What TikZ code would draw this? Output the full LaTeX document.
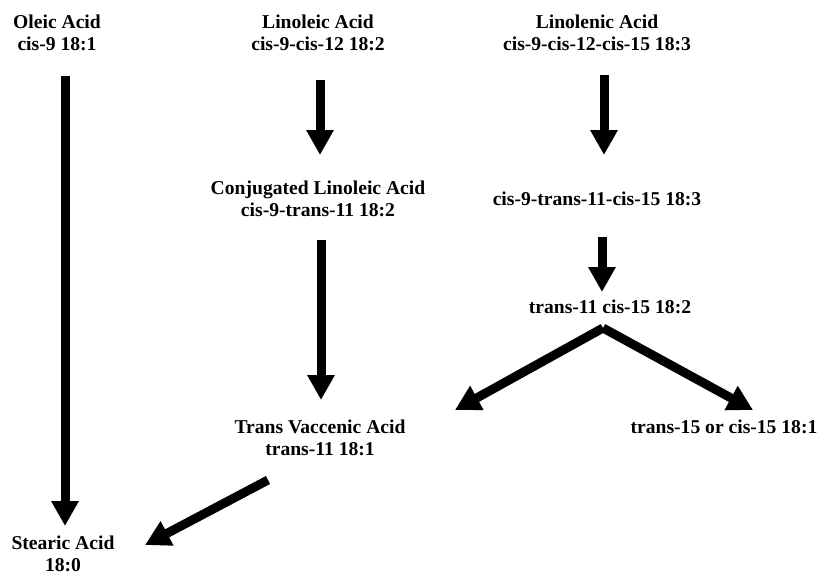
\documentclass[tikz,border=0pt]{standalone}
\usepackage{fontspec}
\setmainfont{Liberation Serif}
\usetikzlibrary{arrows.meta}
\begin{document}
\begin{tikzpicture}[x=1pt,y=1pt,
  lbl/.style={font=\fontsize{19.6}{22}\selectfont\bfseries, align=center, inner sep=0pt, anchor=base},
  arr/.style={line width=9pt, -{Triangle[length=25pt,width=26pt]}}]
\useasboundingbox (0,0) rectangle (821,-576);
\node[lbl] (oleic) at (57,-50) {Oleic Acid\\cis-9 18:1};
\node[lbl] (linoleic) at (318,-50) {Linoleic Acid\\cis-9-cis-12 18:2};
\node[lbl] (linolenic) at (597,-50) {Linolenic Acid\\cis-9-cis-12-cis-15 18:3};
\node[lbl] (cla) at (318,-216) {Conjugated Linoleic Acid\\cis-9-trans-11 18:2};
\node[lbl] (c183) at (597,-205) {cis-9-trans-11-cis-15 18:3};
\node[lbl] (t11c15) at (610,-313) {trans-11 cis-15 18:2};
\node[lbl] (tva) at (320,-455) {Trans Vaccenic Acid\\trans-11 18:1};
\node[lbl] (t15) at (724,-433) {trans-15 or cis-15 18:1};
\node[lbl] (stearic) at (63,-571) {Stearic Acid\\18:0};
\draw[arr] ([shift={(8,-26)}]oleic.base) -- ([shift={(2,45)}]stearic.base);
\draw[arr] ([shift={(2,-30)}]linoleic.base) -- ([shift={(2,61)}]cla.base);
\draw[arr] ([shift={(7,-25)}]linolenic.base) -- ([shift={(7,50)}]c183.base);
\draw[arr] ([shift={(3,-24)}]cla.base) -- ([shift={(1,55)}]tva.base);
\draw[arr] ([shift={(5,-32)}]c183.base) -- ([shift={(-8,21)}]t11c15.base);
\draw[arr] ([shift={(-7,-15)}]t11c15.base) -- ([shift={(135,45)}]tva.base);
\draw[arr] ([shift={(-7,-15)}]t11c15.base) -- ([shift={(29,23)}]t15.base);
\draw[arr] ([shift={(-52,-25)}]tva.base) -- ([shift={(82,26)}]stearic.base);
\end{tikzpicture}
\end{document}
